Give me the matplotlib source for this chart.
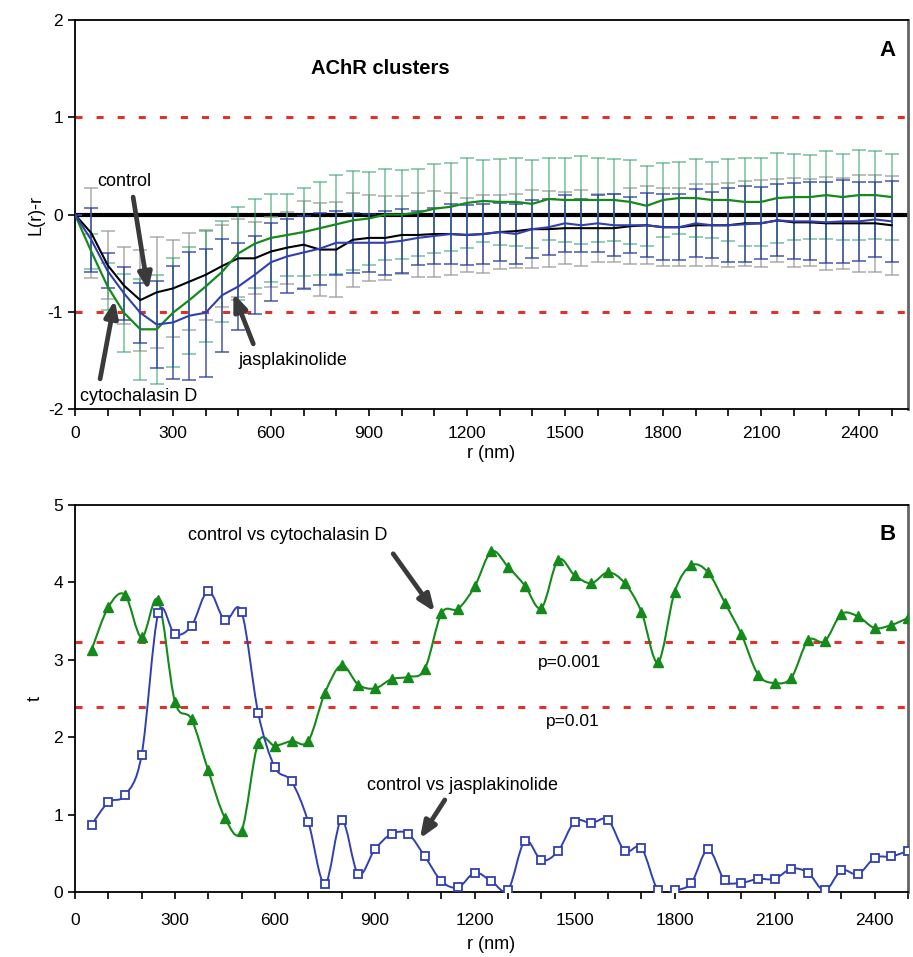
import numpy as np
import matplotlib
matplotlib.use("Agg")
import matplotlib.pyplot as plt
from matplotlib.path import Path
from matplotlib.patches import PathPatch

plt.rcParams["font.family"] = ["Liberation Sans", "DejaVu Sans"]
plt.rcParams["axes.unicode_minus"] = False

# ---- panel A: L(r)-r, every 50 nm from 0 to 2500
r_a = np.arange(0, 2501, 50)

control = [0, -0.19, -0.52, -0.73, -0.88, -0.80, -0.76, -0.69, -0.62, -0.53,
           -0.45, -0.45, -0.38, -0.34, -0.31, -0.36, -0.36, -0.26, -0.24, -0.24,
           -0.21, -0.21, -0.20, -0.20, -0.21, -0.20, -0.18, -0.17, -0.15, -0.15,
           -0.14, -0.14, -0.14, -0.14, -0.12, -0.11, -0.13, -0.13, -0.11, -0.11,
           -0.11, -0.09, -0.09, -0.06, -0.08, -0.08, -0.09, -0.09, -0.09, -0.09,
           -0.11]
control_err = [0, 0.46, 0.35, 0.40, 0.52, 0.57, 0.50, 0.50, 0.46, 0.42,
               0.40, 0.37, 0.36, 0.37, 0.45, 0.48, 0.49, 0.48, 0.44, 0.43,
               0.40, 0.43, 0.44, 0.42, 0.38, 0.40, 0.38, 0.38, 0.40, 0.39,
               0.37, 0.39, 0.35, 0.35, 0.39, 0.40, 0.40, 0.40, 0.42, 0.42,
               0.43, 0.44, 0.45, 0.43, 0.46, 0.45, 0.48, 0.47, 0.50, 0.50,
               0.51]

cytoD = [0, -0.38, -0.74, -1.01, -1.18, -1.18, -1.01, -0.88, -0.74, -0.59,
         -0.40, -0.30, -0.24, -0.21, -0.18, -0.14, -0.10, -0.06, -0.04, 0.00,
         0.00, 0.02, 0.06, 0.08, 0.12, 0.14, 0.13, 0.13, 0.11, 0.16,
         0.15, 0.15, 0.15, 0.15, 0.13, 0.09, 0.15, 0.17, 0.17, 0.15,
         0.15, 0.13, 0.13, 0.17, 0.18, 0.18, 0.20, 0.18, 0.20, 0.20,
         0.18]
cytoD_err = [0, 0.18, 0.24, 0.40, 0.52, 0.56, 0.56, 0.55, 0.57, 0.52,
             0.48, 0.46, 0.45, 0.42, 0.45, 0.48, 0.51, 0.51, 0.48, 0.47,
             0.46, 0.45, 0.46, 0.45, 0.46, 0.42, 0.44, 0.45, 0.45, 0.42,
             0.43, 0.45, 0.43, 0.42, 0.43, 0.41, 0.38, 0.37, 0.40, 0.39,
             0.42, 0.45, 0.45, 0.46, 0.44, 0.43, 0.45, 0.44, 0.46, 0.45,
             0.44]

jasp = [0, -0.26, -0.58, -0.81, -1.01, -1.13, -1.11, -1.04, -1.01, -0.83,
        -0.74, -0.62, -0.49, -0.43, -0.39, -0.35, -0.29, -0.29, -0.29, -0.29,
        -0.27, -0.24, -0.22, -0.20, -0.21, -0.20, -0.18, -0.20, -0.15, -0.13,
        -0.09, -0.11, -0.09, -0.11, -0.11, -0.11, -0.13, -0.13, -0.09, -0.11,
        -0.11, -0.10, -0.09, -0.06, -0.07, -0.07, -0.08, -0.07, -0.07, -0.05,
        -0.07]
jasp_err = [0, 0.33, 0.18, 0.27, 0.31, 0.45, 0.58, 0.66, 0.66, 0.58,
            0.45, 0.40, 0.40, 0.38, 0.38, 0.37, 0.33, 0.31, 0.30, 0.33,
            0.33, 0.28, 0.29, 0.31, 0.31, 0.31, 0.30, 0.31, 0.30, 0.29,
            0.29, 0.27, 0.29, 0.32, 0.29, 0.33, 0.34, 0.34, 0.35, 0.34,
            0.38, 0.39, 0.37, 0.37, 0.39, 0.40, 0.42, 0.43, 0.41, 0.39,
            0.42]

# ---- panel B: t statistics, every 50 nm from 50 to 2500
r_b = np.arange(50, 2501, 50)

t_cytoD = [3.13, 3.68, 3.84, 3.29, 3.77, 2.46, 2.23, 1.57, 0.96, 0.79,
           1.93, 1.89, 1.95, 1.95, 2.57, 2.93, 2.68, 2.63, 2.75, 2.78,
           2.88, 3.60, 3.66, 3.95, 4.40, 4.20, 3.96, 3.67, 4.29, 4.09,
           3.99, 4.13, 3.99, 3.62, 2.97, 3.88, 4.22, 4.13, 3.74, 3.33,
           2.81, 2.70, 2.77, 3.25, 3.24, 3.59, 3.56, 3.41, 3.45, 3.54]
t_jasp = [0.87, 1.16, 1.25, 1.77, 3.60, 3.33, 3.44, 3.89, 3.51, 3.62,
          2.31, 1.61, 1.43, 0.91, 0.10, 0.93, 0.23, 0.55, 0.75, 0.75,
          0.46, 0.14, 0.06, 0.25, 0.14, 0.03, 0.66, 0.41, 0.53, 0.91,
          0.89, 0.93, 0.53, 0.57, 0.02, 0.02, 0.12, 0.55, 0.15, 0.12,
          0.17, 0.17, 0.30, 0.25, 0.02, 0.28, 0.23, 0.44, 0.46, 0.53]

p_levels = [3.23, 2.39]
p_labels = ["p=0.001", "p=0.01"]

GREEN = "#138a1a"
BLUE = "#3040b0"
RED = "#e2302a"
ARROW = "#3a3a3a"


def smooth_path(x, y):
    # Catmull-Rom through the points, drawn as cubic Bezier segments
    pts = np.column_stack([x, y]).astype(float)
    n = len(pts)
    verts = [pts[0]]
    codes = [Path.MOVETO]
    for i in range(n - 1):
        p0 = pts[i - 1] if i > 0 else pts[i]
        p1, p2 = pts[i], pts[i + 1]
        p3 = pts[i + 2] if i + 2 < n else pts[i + 1]
        verts += [p1 + (p2 - p0) / 6, p2 - (p3 - p1) / 6, p2]
        codes += [Path.CURVE4] * 3
    return Path(verts, codes)


def style_axes(ax, xmax, xpad):
    ax.set_xlim(0, xmax)
    ax.set_xticks(np.arange(0, 2401, 300))
    ax.set_xticks(np.arange(0, xmax + 1, 100), minor=True)
    ax.tick_params(axis="both", which="both", direction="out", length=5,
                   width=1.2, labelsize=12.5)
    ax.tick_params(axis="x", which="both", pad=xpad)
    for side in ["left", "bottom", "top"]:
        ax.spines[side].set_linewidth(1.3)
    ax.spines["right"].set_linewidth(2)
    ax.spines["right"].set_color("#666666")


fig = plt.figure(figsize=(9.13, 9.57), dpi=100)

arrow = dict(arrowstyle="-|>,head_length=1.0,head_width=0.4", color=ARROW,
             lw=3.4, shrinkA=0, shrinkB=0)

# ---------------- panel A
ax1 = fig.add_axes([0.0821, 0.5726, 0.9124, 0.4064])
style_axes(ax1, 2550, 7)
ax1.set_xlabel("r (nm)", fontsize=13, labelpad=3)
ax1.set_ylim(-2, 2)
ax1.set_yticks([-2, -1, 0, 1, 2])
ax1.set_ylabel("L(r)-r", fontsize=13, labelpad=2)

ax1.axhline(0, color="black", lw=3, zorder=1)
for lv in [1, -1]:
    ax1.axhline(lv, color=RED, lw=2.2, dashes=(2.3, 4.6), zorder=1)

ax1.errorbar(r_a, control, yerr=control_err, fmt="none", ecolor="#9a9a9a",
             elinewidth=1.2, capsize=5, capthick=1.2, alpha=0.75, zorder=2)
ax1.errorbar(r_a, cytoD, yerr=cytoD_err, fmt="none", ecolor="#2e9e6a",
             elinewidth=1.2, capsize=5, capthick=1.2, alpha=0.6, zorder=2)
ax1.errorbar(r_a, jasp, yerr=jasp_err, fmt="none", ecolor="#2a3fa0",
             elinewidth=1.2, capsize=5, capthick=1.2, alpha=0.8, zorder=2)

ax1.plot(r_a, control, color="black", lw=1.5, zorder=4)
ax1.plot(r_a, cytoD, color=GREEN, lw=1.6, zorder=4)
ax1.plot(r_a, jasp, color=BLUE, lw=1.5, zorder=4)

ax1.text(934, 1.5, "AChR clusters", fontsize=14.5, fontweight="bold",
         ha="center", va="center")
ax1.text(0.985, 0.95, "A", transform=ax1.transAxes, fontsize=16,
         fontweight="bold", ha="right", va="top")

ax1.text(67, 0.34, "control", fontsize=13, ha="left", va="center")
ax1.annotate("", xy=(224, -0.78), xytext=(178, 0.18), arrowprops=arrow)
ax1.text(15, -1.87, "cytochalasin D", fontsize=13, ha="left", va="center")
ax1.annotate("", xy=(122, -0.88), xytext=(77, -1.69), arrowprops=arrow)
ax1.text(499, -1.5, "jasplakinolide", fontsize=13, ha="left", va="center")
ax1.annotate("", xy=(485, -0.81), xytext=(546, -1.33), arrowprops=arrow)

# ---------------- panel B
ax2 = fig.add_axes([0.0821, 0.0679, 0.9124, 0.4044])
style_axes(ax2, 2500, 10)
ax2.set_xlabel("r (nm)", fontsize=13, labelpad=6)
ax2.set_ylim(0, 5)
ax2.set_yticks([0, 1, 2, 3, 4, 5])
ax2.set_ylabel("t", fontsize=13, labelpad=7)

for lv in p_levels:
    ax2.axhline(lv, color=RED, lw=2.2, dashes=(2.3, 4.6), zorder=1)
ax2.text(1485, 2.96, p_labels[0], fontsize=12.5, ha="center", va="center")
ax2.text(1494, 2.20, p_labels[1], fontsize=12.5, ha="center", va="center")

ax2.add_patch(PathPatch(smooth_path(r_b, t_cytoD), fill=False, ec=GREEN,
                        lw=1.5, zorder=3))
ax2.plot(r_b, t_cytoD, ls="none", marker="^", ms=7, color=GREEN, zorder=4)
ax2.add_patch(PathPatch(smooth_path(r_b, t_jasp), fill=False, ec=BLUE,
                        lw=1.4, zorder=3))
ax2.plot(r_b, t_jasp, ls="none", marker="s", ms=5.5, mfc="white", mec=BLUE,
         mew=1.3, zorder=4)

ax2.text(339, 4.61, "control vs cytochalasin D", fontsize=13, ha="left",
         va="center")
ax2.annotate("", xy=(1080, 3.62), xytext=(955, 4.37), arrowprops=arrow)
ax2.text(876, 1.38, "control vs jasplakinolide", fontsize=13, ha="left",
         va="center")
ax2.annotate("", xy=(1035, 0.69), xytext=(1110, 1.19), arrowprops=arrow)
ax2.text(0.985, 0.95, "B", transform=ax2.transAxes, fontsize=16,
         fontweight="bold", ha="right", va="top")

fig.savefig("out.png", dpi=100)
